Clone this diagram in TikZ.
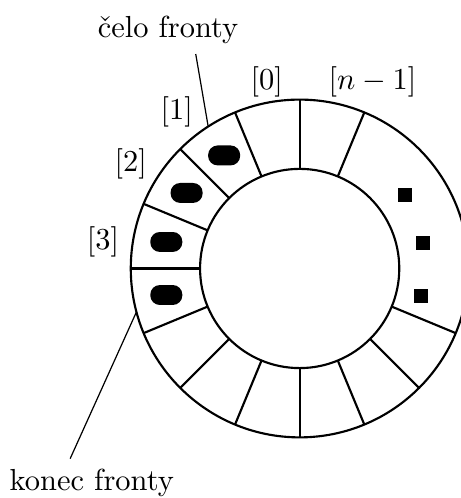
\documentclass[tikz,border=0pt]{standalone}
\usepackage{tikz}

\begin{document}
\begin{tikzpicture}[
  pill/.style={fill=black, rounded corners=1.1mm, minimum width=3.7mm, minimum height=2.3mm, inner sep=0pt},
  dot/.style={fill=black, minimum size=1.6mm, inner sep=0pt}]
  \useasboundingbox (-3.46,-2.65) rectangle (1.86,3.10);

  % kruhy fronty
  \draw[line width=0.7pt] (0,0) circle (1.95);
  \draw[line width=0.7pt] (0,0) circle (1.15);

  % prihradky
  \foreach \a in {67.5,90,...,337.5}
    \draw[line width=0.7pt] (\a:1.15) -- (\a:1.95);

  % obsazene prvky
  \foreach \a [count=\i] in {123.75,146.25,168.75,191.25}
    \node[pill] (p\i) at (\a:1.57) {};

  % tecky
  \node[dot] (d1) at (1.22,0.85) {};
  \node[dot] (d2) at (1.42,0.29) {};
  \node[dot] (d3) at (1.40,-0.32) {};

  % indexy
  \node (i0) at (-0.38,2.15) {[0]};
  \node (in) at (0.84,2.15) {$[n-1]$};
  \node (i1) at (-1.42,1.81) {[1]};
  \node (i2) at (-1.95,1.21) {[2]};
  \node (i3) at (-2.27,0.31) {[3]};

  % popisky
  \node (celo) at (-1.52,2.76) {čelo fronty};
  \node (konec) at (-2.40,-2.48) {konec fronty};
  \coordinate (head) at (122.8:1.95);
  \coordinate (tail) at (194.9:1.95);
  \draw[thin] ([xshift=0.32cm]celo.south) -- (head);
  \draw[thin] ([xshift=-0.25cm]konec.north) -- (tail);
\end{tikzpicture}
\end{document}
